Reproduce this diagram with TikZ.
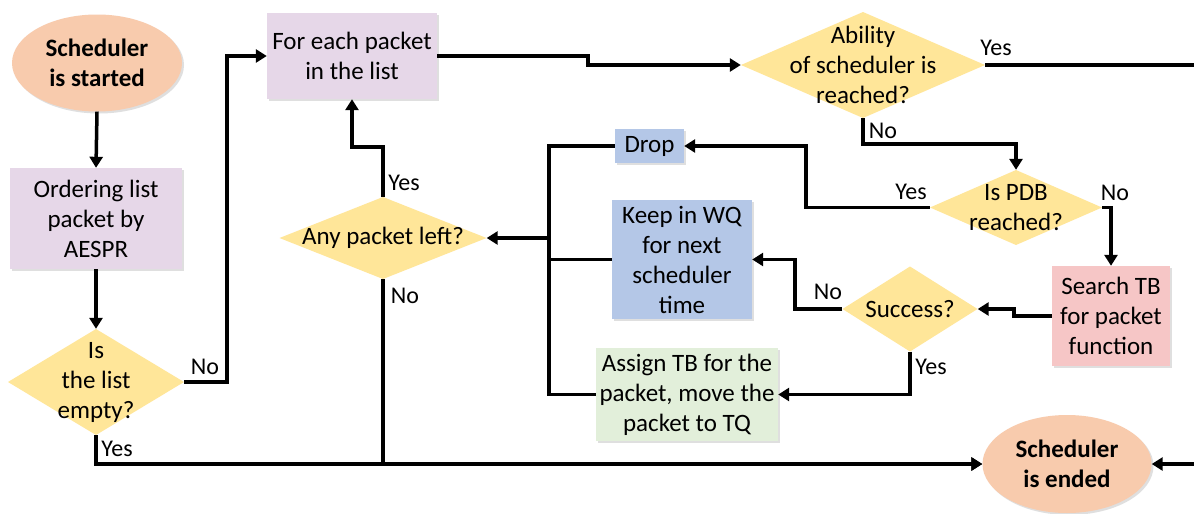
\documentclass[tikz,border=0pt]{standalone}
\usepackage{fontspec}
\setmainfont{Carlito}
\usetikzlibrary{arrows.meta,shadows,shapes.geometric}
\definecolor{termc}{HTML}{F8CBAD}
\definecolor{lavc}{HTML}{E6D7E8}
\definecolor{diac}{HTML}{FFE699}
\definecolor{bluec}{HTML}{B4C7E7}
\definecolor{greenc}{HTML}{E2EFDA}
\definecolor{pinkc}{HTML}{F6C6C6}
\begin{document}
\begin{tikzpicture}[x=1pt,y=-1pt,
  font=\fontsize{25}{30}\selectfont,
  conn/.style={line width=3.5pt},
  arr/.style={conn,-{Triangle[length=11pt,width=13pt]}},
  shad/.style={drop shadow={opacity=0.25,shadow xshift=2pt,shadow yshift=-2pt}},
  box/.style={rectangle, inner sep=0pt, align=center, shad},
  term/.style={ellipse, fill=termc, inner sep=0pt, align=center, shad,
    font=\fontsize{25}{30}\selectfont\bfseries},
  dia/.style={rectangle, inner sep=0pt, align=center,
    path picture={\fill[diac] (path picture bounding box.north) -- (path picture bounding box.east)
      -- (path picture bounding box.south) -- (path picture bounding box.west) -- cycle;}},
  lbl/.style={inner sep=0pt, font=\fontsize{24}{28}\selectfont}]
\fill[white] (0,0) rectangle (1194,514);
\useasboundingbox (0,0) rectangle (1194,514);

% nodes
\node[term, minimum width=170pt, minimum height=97pt] (start) at (97,63) {Scheduler\\is started};
\node[box, fill=lavc, minimum width=172pt, minimum height=101pt] (order) at (96,218.5) {Ordering list\\packet by\\AESPR};
\node[dia, minimum width=176pt, minimum height=106pt] (empty) at (96,382) {Is\\the list\\empty?};
\node[box, fill=lavc, minimum width=170pt, minimum height=86pt] (foreach) at (352,56) {For each packet\\in the list};
\node[dia, minimum width=207pt, minimum height=82pt] (any) at (383,238) {Any packet left?};
\node[dia, minimum width=244pt, minimum height=106pt] (ability) at (863,65) {Ability\\of scheduler is\\reached?};
\node[box, fill=bluec, minimum width=69pt, minimum height=34pt] (drop) at (649.5,146) {Drop};
\node[dia, minimum width=172pt, minimum height=75pt] (pdb) at (1016,207.5) {Is PDB\\reached?};
\node[box, fill=bluec, minimum width=140pt, minimum height=119pt] (keep) at (682,259.5) {Keep in WQ\\for next\\scheduler\\time};
\node[dia, minimum width=135pt, minimum height=85pt] (success) at (910,309) {Success?};
\node[box, fill=pinkc, minimum width=118pt, minimum height=100pt] (search) at (1111,316) {Search TB\\for packet\\function};
\node[box, fill=greenc, minimum width=182pt, minimum height=93pt] (assign) at (687,394.5) {Assign TB for the\\packet, move the\\packet to TQ};
\node[term, minimum width=169pt, minimum height=98pt] (ended) at (1067,464) {Scheduler\\is ended};

\coordinate (rt) at (1194,65);
\coordinate (rb) at (1194,464);
\coordinate (J) at (549,238);

% connectors
\draw[arr] (start.south) -- (order.north);
\draw[arr] (order.south) -- (empty.north);
\draw[arr] (empty.east) -- (227,382) |- (foreach.west);
\draw[arr] (empty.south) |- (ended.west);
\draw[arr] (any.south) |- (ended.west);
\draw[arr] (any.north) -- (383,147) -| (foreach.south);
\draw[arr] (foreach.east) -- (588,56) |- (ability.west);
\draw[conn] (ability.east) -- (rt);
\draw[arr] (rb) -- (ended.east);
\draw[arr] (ability.south) -- (863,144) -| (pdb.north);
\draw[arr] (pdb.west) -- (806,207.5) |- (drop.east);
\draw[arr] (pdb.east) -| (search.north);
\draw[arr] (search.west) -- (1014,316) |- (success.east);
\draw[arr] (success.west) -- (795,309) |- (keep.east);
\draw[arr] (success.south) |- (assign.east);
\draw[conn] (drop.west) -| (J);
\draw[conn] (keep.west) -| (J);
\draw[conn] (assign.west) -| (J);
\draw[arr] (J) -- (any.east);

% labels
\node[lbl] (l1) at (205,367) {No};
\node[lbl] (l2) at (117,449) {Yes};
\node[lbl] (l3) at (404,183) {Yes};
\node[lbl] (l4) at (405,296) {No};
\node[lbl] (l5) at (996,48) {Yes};
\node[lbl] (l6) at (883,131) {No};
\node[lbl] (l7) at (911,192) {Yes};
\node[lbl] (l8) at (1115,193) {No};
\node[lbl] (l9) at (828,292) {No};
\node[lbl] (l10) at (931,367) {Yes};
\end{tikzpicture}
\end{document}
